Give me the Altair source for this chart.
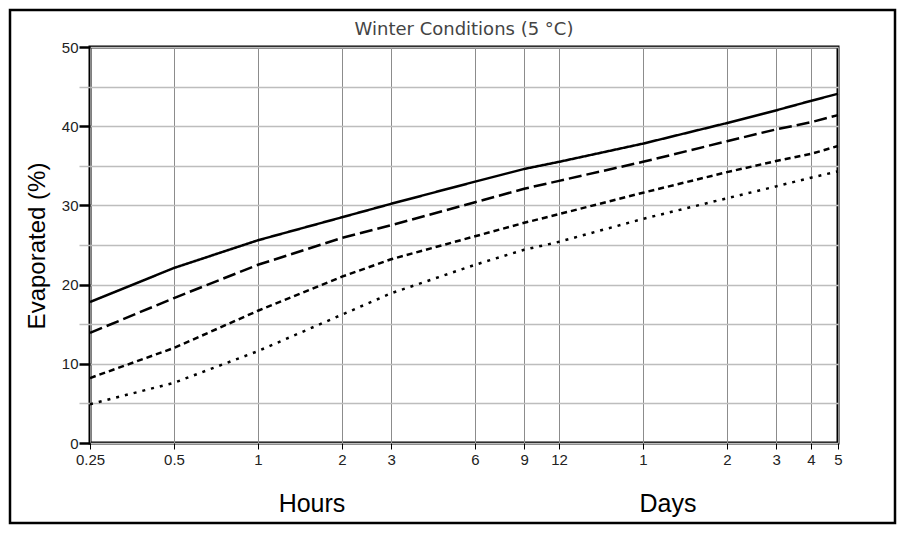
import altair as alt
import pandas as pd

# x positions in hours (log axis), labels shown on axis
tick_hours = [0.25, 0.5, 1, 2, 3, 6, 9, 12, 24, 48, 72, 96, 120]
tick_labels = ["0.25", "0.5", "1", "2", "3", "6", "9", "12", "1", "2", "3", "4", "5"]

series_names = ["A", "B", "C", "D"]
vals_a = [17.8, 22.1, 25.6, 28.5, 30.2, 33.0, 34.6, 35.5, 37.8, 40.4, 42.0, 43.2, 44.1]
vals_b = [13.9, 18.3, 22.5, 25.9, 27.5, 30.4, 32.1, 33.1, 35.5, 38.1, 39.6, 40.5, 41.4]
vals_c = [8.2, 12.0, 16.7, 21.0, 23.2, 26.1, 27.8, 28.9, 31.6, 34.2, 35.6, 36.5, 37.5]
vals_d = [4.9, 7.6, 11.6, 16.2, 18.9, 22.5, 24.4, 25.4, 28.3, 30.9, 32.4, 33.5, 34.3]

rows = []
for name, vals in zip(series_names, [vals_a, vals_b, vals_c, vals_d]):
    for h, v in zip(tick_hours, vals):
        rows.append({"series": name, "hours": h, "evap": v})
df = pd.DataFrame(rows)

W, H = 748, 396
PL, PT, PR, PB = 82, 39, 60, 83
FONT = "Liberation Sans, Arial, sans-serif"

label_map = "{" + ",".join(f"'{h}':'{l}'" for h, l in zip(tick_hours, tick_labels)) + "}"

x_enc = alt.X(
    "hours:Q",
    scale=alt.Scale(type="log", domain=[0.25, 120], nice=False),
    axis=alt.Axis(
        values=tick_hours,
        labelExpr=f"{label_map}[toString(datum.value)]",
        grid=True, gridColor="#8c8c8c", gridWidth=1,
        tickColor="black", tickSize=6, tickWidth=1,
        labelFont=FONT, labelFontSize=15, labelColor="#222", labelPadding=3,
        domain=False, title=None, labelFlush=False, labelOverlap=False,
    ),
)
y_enc = alt.Y(
    "evap:Q",
    scale=alt.Scale(domain=[0, 50], nice=False),
    axis=alt.Axis(
        values=list(range(0, 51, 5)),
        labelExpr="datum.value % 10 === 0 ? datum.label : ''",
        grid=True, gridColor="#bdbdbd", gridWidth=1.5,
        tickSize=11,
        tickColor={"condition": {"test": "datum.value % 10 === 0", "value": "black"}, "value": "#bdbdbd"},
        tickWidth={"condition": {"test": "datum.value % 10 === 0", "value": 2.5}, "value": 1.5},
        labelFont=FONT, labelFontSize=15, labelColor="#222", labelPadding=1,
        domain=False, title=None, labelFlush=False,
    ),
)

lines = alt.Chart(df).mark_line(color="black", strokeWidth=2.5, interpolate="linear", strokeCap="butt").encode(
    x=x_enc,
    y=y_enc,
    strokeDash=alt.StrokeDash(
        "series:N",
        scale=alt.Scale(domain=series_names, range=[[1, 0], [13, 5], [6, 4], [3, 6]]),
        legend=None,
    ),
)

one = pd.DataFrame({"k": [0]})

border = alt.Chart(one).mark_rect(fillOpacity=0, stroke="black", strokeWidth=2.5).encode(
    x=alt.value(-80), x2=alt.value(W + PR - 3), y=alt.value(-37), y2=alt.value(H + PB - 3)
)

title = alt.Chart(one).mark_text(
    text="Winter Conditions (5 °C)", font="DejaVu Sans", fontSize=18,
    color="#444", baseline="middle"
).encode(x=alt.value(W / 2), y=alt.value(-17))

ytitle = alt.Chart(one).mark_text(
    text="Evaporated (%)", font=FONT, fontSize=24, color="black", angle=270, baseline="middle"
).encode(x=alt.value(-52), y=alt.value(199))

hours_t = alt.Chart(one).mark_text(
    text="Hours", font=FONT, fontSize=25, color="black", baseline="middle"
).encode(x=alt.value(222), y=alt.value(457))

days_t = alt.Chart(one).mark_text(
    text="Days", font=FONT, fontSize=25, color="black", baseline="middle"
).encode(x=alt.value(578), y=alt.value(457))

chart = alt.layer(lines, border, title, ytitle, hours_t, days_t).properties(
    width=W, height=H,
    padding={"left": PL, "top": PT, "right": PR, "bottom": PB},
    autosize="none",
    background="white",
).configure_view(stroke="black", strokeWidth=3)

chart.save("out.html", embed_options={"renderer": "svg", "actions": False})
